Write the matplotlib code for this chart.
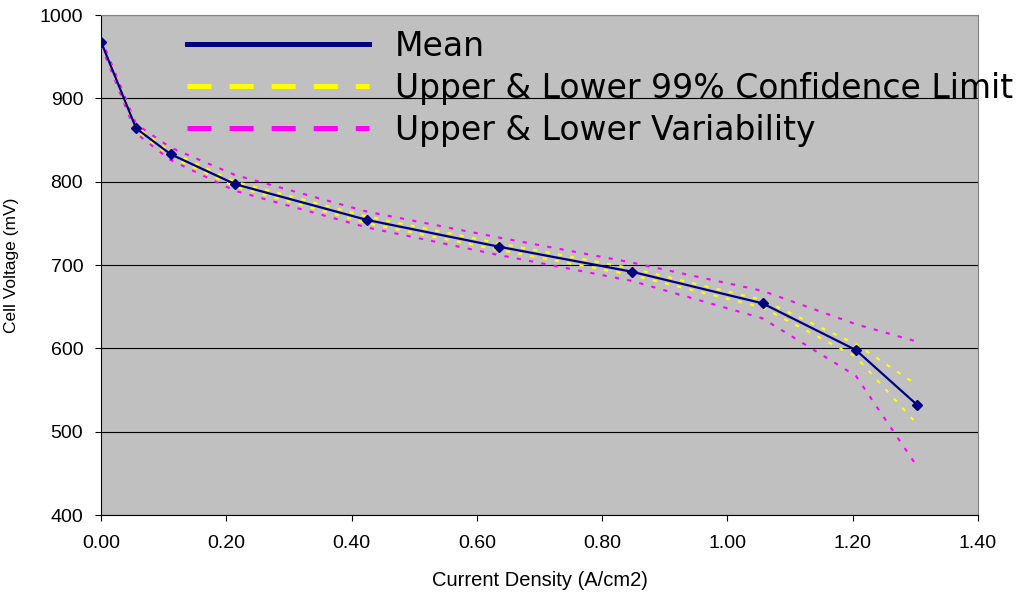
import matplotlib
matplotlib.use("Agg")
import matplotlib.pyplot as plt
from matplotlib.lines import Line2D
from matplotlib.ticker import FormatStrFormatter, MultipleLocator

plt.rcParams['lines.scale_dashes'] = False

# current density (A/cm2) and cell voltage (mV)
current = [0.000, 0.056, 0.111, 0.214, 0.425, 0.635, 0.847, 1.056, 1.205, 1.303]
mean_v = [968, 864, 833, 797, 754, 722, 692, 654, 598, 532]
upper_cl = [969, 866, 836, 800, 758, 726, 696, 658, 605, 556]
lower_cl = [967, 862, 830, 794, 750, 718, 688, 649, 590, 509]
upper_var = [972, 869, 841, 808, 764, 733, 703, 669, 629, 608]
lower_var = [964, 858, 826, 789, 745, 712, 681, 636, 567, 458]

legend_labels = ["Mean", "Upper & Lower 99% Confidence Limit", "Upper & Lower Variability"]

navy = "#000080"
yellow = "#FFFF00"
magenta = "#FF00FF"
dots = (0, (3.0, 6.0))

fig = plt.figure(figsize=(10.18, 5.95), dpi=100)
ax = fig.add_axes([101 / 1018, 80 / 595, 877 / 1018, 500 / 595])
ax.set_facecolor("#C0C0C0")

ax.plot(current, upper_var, color=magenta, lw=1.5, ls=dots, zorder=3)
ax.plot(current, lower_var, color=magenta, lw=1.5, ls=dots, zorder=3)
ax.plot(current, upper_cl, color=yellow, lw=1.5, ls=dots, zorder=3)
ax.plot(current, lower_cl, color=yellow, lw=1.5, ls=dots, zorder=3)
ax.plot(current, mean_v, color=navy, lw=1.6, marker="D", ms=5.5, zorder=4)

ax.set_xlim(0, 1.4)
ax.set_ylim(400, 1000)
ax.xaxis.set_major_locator(MultipleLocator(0.2))
ax.xaxis.set_major_formatter(FormatStrFormatter("%.2f"))
ax.yaxis.set_major_locator(MultipleLocator(100))
ax.yaxis.grid(True, color="black", lw=0.8)
ax.set_axisbelow(True)

for s in ["top", "right"]:
    ax.spines[s].set_color("#808080")
for s in ["left", "bottom"]:
    ax.spines[s].set_color("black")
    ax.spines[s].set_linewidth(0.8)

ax.tick_params(axis="both", direction="out", length=4.3, width=0.8,
               labelsize=14, labelfontfamily="Liberation Sans")
ax.tick_params(axis="y", pad=8.5)
ax.tick_params(axis="x", pad=10)

ax.set_xlabel("Current Density (A/cm2)", fontsize=14.5, family="Liberation Sans")
ax.set_ylabel("Cell Voltage (mV)", fontsize=12.5, family="Liberation Sans")
ax.yaxis.set_label_coords(-0.093, 0.5)
ax.xaxis.set_label_coords(0.5, -0.112)

handles = [
    Line2D([], [], color=navy, lw=3.6),
    Line2D([], [], color=yellow, lw=3.6, ls=(0, (17.3, 13))),
    Line2D([], [], color=magenta, lw=3.6, ls=(0, (17.3, 13))),
]
fig.legend(handles, legend_labels, loc="upper left",
           bbox_to_anchor=(187 / 1018, 1 - 30 / 595),
           frameon=False, borderpad=0, borderaxespad=0,
           handlelength=5.5, handletextpad=0.8, labelspacing=0.27,
           prop={"family": "DejaVu Sans", "size": 23.8})

fig.savefig("out.png", dpi=100)
